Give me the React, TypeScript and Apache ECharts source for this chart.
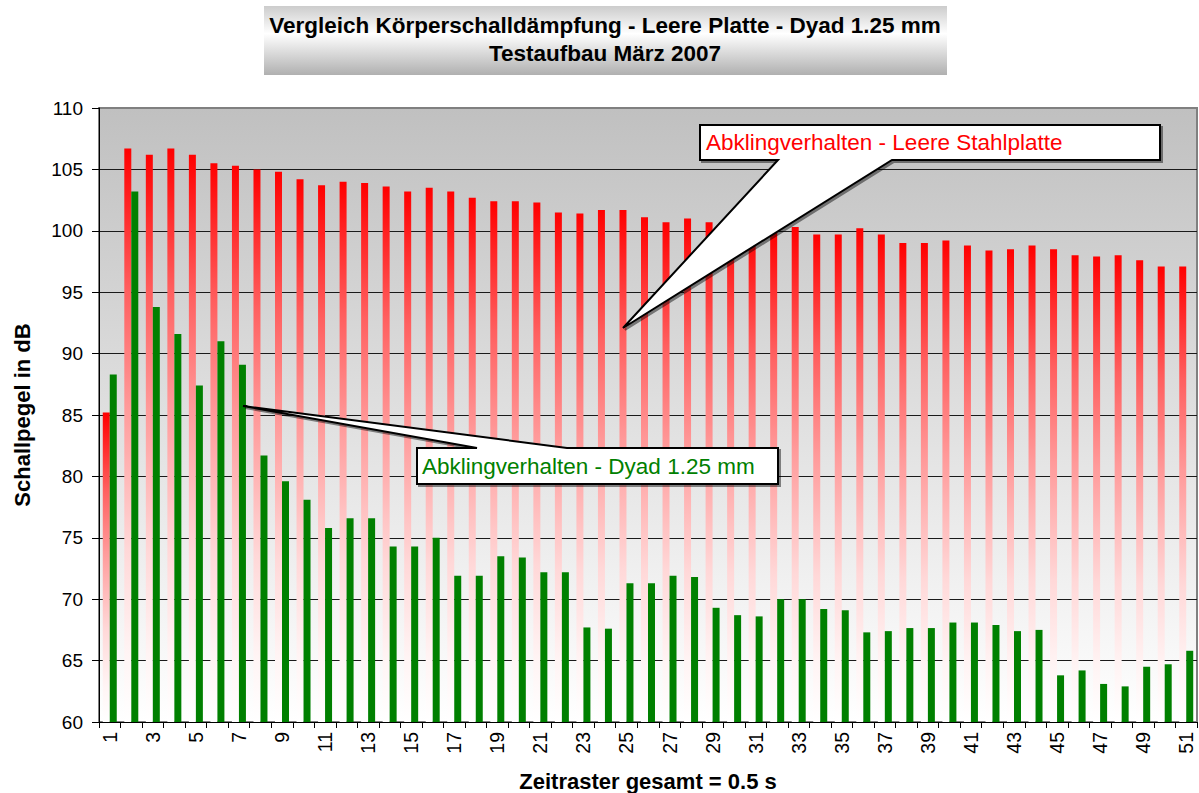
import React, { useEffect, useRef } from "react";
import * as echarts from "echarts";

const categories = [
  "1", "2", "3", "4", "5", "6", "7", "8", "9", "10",
  "11", "12", "13", "14", "15", "16", "17", "18", "19", "20",
  "21", "22", "23", "24", "25", "26", "27", "28", "29", "30",
  "31", "32", "33", "34", "35", "36", "37", "38", "39", "40",
  "41", "42", "43", "44", "45", "46", "47", "48", "49", "50", "51",
];

const leerePlatte = [
  85.2, 106.7, 106.2, 106.7, 106.2, 105.5, 105.3, 105.0, 104.8, 104.2,
  103.7, 104.0, 103.9, 103.6, 103.2, 103.5, 103.2, 102.7, 102.4, 102.4,
  102.3, 101.5, 101.4, 101.7, 101.7, 101.1, 100.7, 101.0, 100.7, 100.6,
  100.2, 100.0, 100.3, 99.7, 99.7, 100.2, 99.7, 99.0, 99.0, 99.2,
  98.8, 98.4, 98.5, 98.8, 98.5, 98.0, 97.9, 98.0, 97.6, 97.1, 97.1,
];

const dyad = [
  88.3, 103.2, 93.8, 91.6, 87.4, 91.0, 89.1, 81.7, 79.6, 78.1,
  75.8, 76.6, 76.6, 74.3, 74.3, 75.0, 71.9, 71.9, 73.5, 73.4,
  72.2, 72.2, 67.7, 67.6, 71.3, 71.3, 71.9, 71.8, 69.3, 68.7,
  68.6, 70.0, 70.0, 69.2, 69.1, 67.3, 67.4, 67.65, 67.65, 68.1,
  68.1, 67.9, 67.4, 67.5, 63.8, 64.2, 63.1, 62.9, 64.5, 64.7, 65.8,
];

const titleLines = [
  "Vergleich Körperschalldämpfung - Leere Platte - Dyad 1.25 mm",
  "Testaufbau März 2007",
];
const seriesNames = ["Abklingverhalten - Leere Stahlplatte", "Abklingverhalten - Dyad 1.25 mm"];
const yAxisName = "Schallpegel in dB";
const xAxisName = "Zeitraster gesamt = 0.5 s";

const FONT = '"Liberation Sans", Arial, sans-serif';

export default function App() {
  const ref = useRef<HTMLDivElement>(null);

  useEffect(() => {
    if (!ref.current) return;
    const chart = echarts.init(ref.current, undefined, { renderer: "svg" });

    const splitColors = [
      "#1a1a1a", "#1a1a1a", "#1a1a1a", "#1a1a1a", "#1a1a1a", "#1a1a1a",
      "#1a1a1a", "#1a1a1a", "#1a1a1a", "#1a1a1a", "#808080",
    ];

    chart.setOption({
      animation: false,
      backgroundColor: "#ffffff",
      textStyle: { fontFamily: FONT },
      grid: {
        left: 99,
        top: 108,
        right: 2,
        bottom: 71,
        containLabel: false,
        outerBoundsMode: "none",
        show: true,
        borderColor: "#808080",
        borderWidth: 2,
        backgroundColor: new echarts.graphic.LinearGradient(0, 0, 0, 1, [
          { offset: 0, color: "#c0c0c0" },
          { offset: 1, color: "#ffffff" },
        ]),
      },
      xAxis: {
        type: "category",
        data: categories,
        boundaryGap: true,
        name: xAxisName,
        nameLocation: "middle",
        nameGap: 48,
        nameTextStyle: { fontFamily: FONT, fontWeight: "bold", fontSize: 22, color: "#000" },
        axisLine: { show: true, lineStyle: { color: "#000", width: 1 } },
        axisTick: { show: true, inside: false, length: 6, interval: 0, lineStyle: { color: "#000" } },
        axisLabel: {
          interval: 1,
          rotate: 90,
          margin: 10,
          fontFamily: FONT,
          fontSize: 19.5,
          color: "#000",
        },
        splitLine: { show: false },
      },
      yAxis: {
        type: "value",
        min: 60,
        max: 110,
        interval: 5,
        name: yAxisName,
        nameLocation: "middle",
        nameGap: 66,
        nameTextStyle: { fontFamily: FONT, fontWeight: "bold", fontSize: 22, color: "#000" },
        axisLine: { show: true, lineStyle: { color: "#000", width: 1 } },
        axisTick: { show: true, inside: false, length: 7, lineStyle: { color: "#000" } },
        axisLabel: { margin: 16, fontFamily: FONT, fontSize: 19, color: "#000" },
        splitLine: { show: true, lineStyle: { color: splitColors, width: 1 } },
      },
      series: [
        {
          name: seriesNames[0],
          type: "bar",
          data: leerePlatte,
          barGap: "0%",
          barCategoryGap: "35%",
          itemStyle: {
            color: new echarts.graphic.LinearGradient(0, 0, 0, 1, [
              { offset: 0, color: "#ff0000" },
              { offset: 0.25, color: "#ff6060" },
              { offset: 0.45, color: "#ff9a9a" },
              { offset: 0.7, color: "#ffd8d8" },
              { offset: 0.88, color: "#fff4f4" },
              { offset: 1, color: "#ffffff" },
            ]),
          },
        },
        {
          name: seriesNames[1],
          type: "bar",
          data: dyad,
          barGap: "0%",
          barCategoryGap: "35%",
          itemStyle: { color: "#008000" },
        },
      ],
      graphic: [
        {
          type: "rect",
          shape: { x: 264, y: 6, width: 683, height: 69 },
          style: {
            fill: new echarts.graphic.LinearGradient(0, 0, 0, 1, [
              { offset: 0, color: "#cccccc" },
              { offset: 0.4, color: "#ffffff" },
              { offset: 1, color: "#b0b0b0" },
            ]),
          },
          z: 10,
        },
        {
          type: "text",
          x: 605,
          y: 25,
          style: {
            text: titleLines[0],
            font: `bold 22.5px ${FONT}`,
            fill: "#000",
            textAlign: "center",
            textVerticalAlign: "middle",
          },
          z: 11,
        },
        {
          type: "text",
          x: 605,
          y: 53,
          style: {
            text: titleLines[1],
            font: `bold 22.5px ${FONT}`,
            fill: "#000",
            textAlign: "center",
            textVerticalAlign: "middle",
          },
          z: 11,
        },
        {
          type: "polygon",
          shape: {
            points: [
              [700, 125], [1160, 125], [1160, 160], [892, 160], [623, 328], [778, 160], [700, 160],
            ],
          },
          style: {
            fill: "#ffffff",
            stroke: "#000",
            lineWidth: 2,
            shadowColor: "rgba(0,0,0,0.45)",
            shadowOffsetX: 2,
            shadowOffsetY: 2,
          },
          z: 20,
        },
        {
          type: "text",
          x: 706,
          y: 142,
          style: {
            text: seriesNames[0],
            font: `22.5px ${FONT}`,
            fill: "#ff0000",
            textAlign: "left",
            textVerticalAlign: "middle",
          },
          z: 21,
        },
        {
          type: "polygon",
          shape: {
            points: [
              [417, 448], [477, 448], [243, 406], [567, 448], [778, 448], [778, 484], [417, 484],
            ],
          },
          style: {
            fill: "#ffffff",
            stroke: "#000",
            lineWidth: 2,
            shadowColor: "rgba(0,0,0,0.45)",
            shadowOffsetX: 2,
            shadowOffsetY: 2,
          },
          z: 20,
        },
        {
          type: "text",
          x: 422,
          y: 466,
          style: {
            text: seriesNames[1],
            font: `22.5px ${FONT}`,
            fill: "#008000",
            textAlign: "left",
            textVerticalAlign: "middle",
          },
          z: 21,
        },
      ],
    });

    return () => {
      chart.dispose();
    };
  }, []);

  return (
    <div
      ref={ref}
      style={{ position: "fixed", left: 0, top: 0, width: 1199, height: 793 }}
    />
  );
}
